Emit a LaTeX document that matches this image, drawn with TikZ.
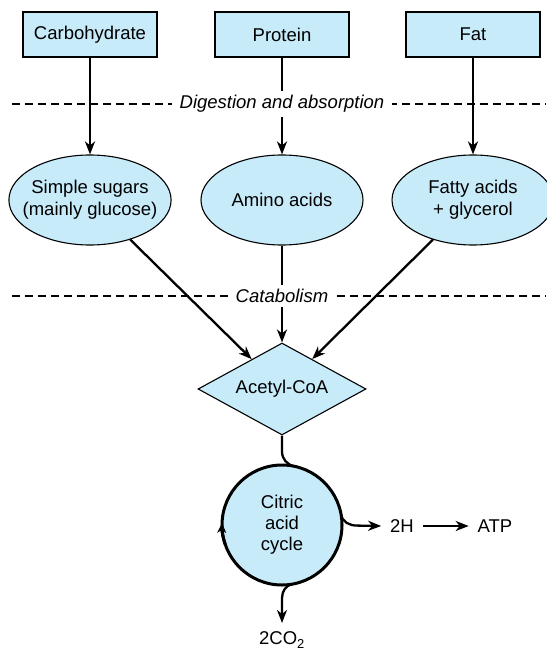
\documentclass[tikz,border=0pt]{standalone}
\usepackage{fontspec}
\setmainfont{Liberation Sans}
\usetikzlibrary{arrows.meta, shapes.geometric}
\definecolor{cellblue}{HTML}{C8EBFA}

\begin{document}
\begin{tikzpicture}[
  x=1pt, y=1pt,
  font=\fontsize{18.5}{22}\selectfont,
  food/.style={draw, line width=1.3pt, fill=cellblue, minimum width=134pt,
               minimum height=45pt, inner sep=0pt},
  product/.style={draw, ellipse, line width=1.1pt, fill=cellblue, minimum width=162pt,
                  minimum height=90pt, inner xsep=-10pt, inner ysep=0pt, align=center},
  hub/.style={draw, diamond, aspect=1.8, line width=1.1pt, fill=cellblue,
              minimum width=168pt, minimum height=92pt, inner sep=0pt},
  cyc/.style={draw, circle, line width=3pt, fill=cellblue, minimum size=120pt,
              inner sep=0pt, outer sep=0pt, align=center, font=\fontsize{18.5}{21}\selectfont},
  outlbl/.style={inner sep=0pt, outer sep=9pt},
  stage/.style={fill=white, inner xsep=8pt, inner ysep=4pt,
                font=\fontsize{18.5}{22}\selectfont\itshape},
  divider/.style={dash pattern=on 8pt off 5pt, line width=1.1pt},
  arr/.style={-{Stealth[length=13pt, width=10pt, inset=4pt]}, line width=2.3pt}
]
  \useasboundingbox (0,0) rectangle (546,-652);

  % Food groups
  \node[food] (carb) at (90,-34.5) {Carbohydrate};
  \node[food] (prot) at (282,-34.5) {Protein};
  \node[food] (fat) at (473,-34.5) {Fat};

  % Stage dividers
  \draw[divider] (12,-104) -- (546,-104);
  \draw[divider] (12,-296) -- (546,-296);

  % Breakdown products
  \node[product] (sugars) at (90,-200) {Simple sugars\\(mainly glucose)};
  \node[product] (amino) at (282,-200) {Amino acids};
  \node[product] (fatty) at (473,-200) {Fatty acids\\+ glycerol};

  \node[hub] (acetyl) at (282,-389) {Acetyl-CoA};
  \node[cyc] (cycle) at (282,-525) {Citric\\acid\\cycle};

  \node[outlbl] (h2) at (402,-526) {2H};
  \node[outlbl] (atp) at (495,-526) {ATP};
  \node[outlbl] (co2) at (282,-640) {2CO\textsubscript{2}};

  % Digestion and catabolism
  \draw[arr] (carb) -- (sugars);
  \draw[arr] (prot) -- (amino);
  \draw[arr] (fat) -- (fatty);
  \draw[arr] (sugars) -- (acetyl);
  \draw[arr] (amino) -- (acetyl);
  \draw[arr] (fatty) -- (acetyl);

  \node[stage] (digest) at (282,-104) {Digestion and absorption};
  \node[stage] (catab) at (282,-296) {Catabolism};

  % Into and out of the cycle
  \draw[line width=2.3pt] (acetyl.south) -- ++(0,-16) to[out=-90, in=168] (cycle.78);
  \draw[-{Stealth[length=10pt, width=9pt, inset=3pt]}, line width=3pt]
    (cycle.200) arc[start angle=200, end angle=178, radius=60pt];
  \draw[arr] (cycle.10) to[out=-80, in=180] ++(16,-11) -- (h2.west);
  \draw[arr] (h2) -- (atp);
  \draw[arr] (cycle.-80) to[out=190, in=90] ++(-10.4,-14) -- (co2.north);
\end{tikzpicture}
\end{document}
